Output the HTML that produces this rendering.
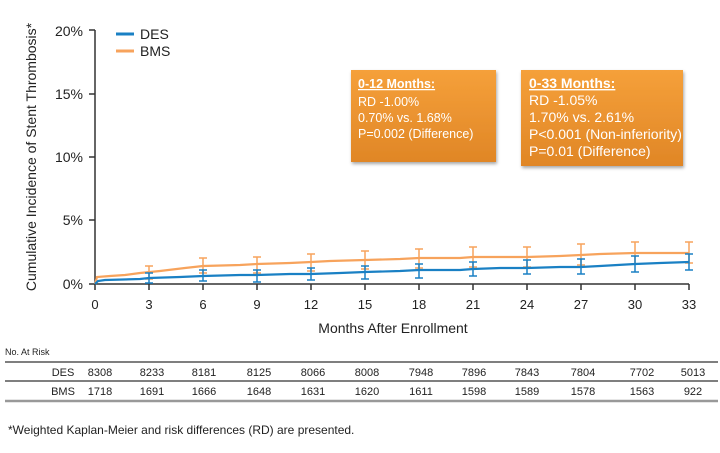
<!DOCTYPE html>
<html><head><meta charset="utf-8"><style>
body{margin:0;background:#fff;width:720px;height:448px;overflow:hidden;font-family:"Liberation Sans",Arial,sans-serif}
svg text{font-family:"Liberation Sans",Arial,sans-serif}
</style></head><body>
<svg width="720" height="448" viewBox="0 0 720 448" xmlns="http://www.w3.org/2000/svg">
<defs>
<linearGradient id="og" x1="0" y1="0" x2="0" y2="1"><stop offset="0" stop-color="#f5a03a"/><stop offset="1" stop-color="#e08626"/></linearGradient>
<filter id="sh" x="-10%" y="-10%" width="130%" height="130%"><feDropShadow dx="1" dy="2" stdDeviation="1.5" flood-color="#000" flood-opacity="0.35"/></filter>
</defs>
<g stroke="#333" stroke-width="1.5" fill="none">
<line x1="95" y1="30" x2="95" y2="284"/>
<line x1="95" y1="284" x2="689" y2="284"/>
<line x1="89" y1="30" x2="95" y2="30"/>
<line x1="89" y1="94" x2="95" y2="94"/>
<line x1="89" y1="157" x2="95" y2="157"/>
<line x1="89" y1="220" x2="95" y2="220"/>
<line x1="89" y1="284" x2="95" y2="284"/>
<line x1="95" y1="284" x2="95" y2="290"/><line x1="149" y1="284" x2="149" y2="290"/><line x1="203" y1="284" x2="203" y2="290"/><line x1="257" y1="284" x2="257" y2="290"/><line x1="311" y1="284" x2="311" y2="290"/><line x1="365" y1="284" x2="365" y2="290"/><line x1="419" y1="284" x2="419" y2="290"/><line x1="473" y1="284" x2="473" y2="290"/><line x1="527" y1="284" x2="527" y2="290"/><line x1="581" y1="284" x2="581" y2="290"/><line x1="635" y1="284" x2="635" y2="290"/><line x1="689" y1="284" x2="689" y2="290"/>
</g>
<g font-size="14" fill="#222" text-anchor="end">
<text x="83" y="36">20%</text><text x="83" y="99">15%</text><text x="83" y="162">10%</text><text x="83" y="225">5%</text><text x="83" y="289">0%</text>
</g>
<g font-size="13" fill="#222" text-anchor="middle">
<text x="95" y="309">0</text><text x="149" y="309">3</text><text x="203" y="309">6</text><text x="257" y="309">9</text><text x="311" y="309">12</text><text x="365" y="309">15</text><text x="419" y="309">18</text><text x="473" y="309">21</text><text x="527" y="309">24</text><text x="581" y="309">27</text><text x="635" y="309">30</text><text x="689" y="309">33</text>
</g>
<text x="393" y="333" font-size="14" fill="#222" text-anchor="middle">Months After Enrollment</text>
<text transform="translate(36,157) rotate(-90)" font-size="14" fill="#222" text-anchor="middle">Cumulative Incidence of Stent Thrombosis*</text>
<polyline fill="none" stroke="#f7a35c" stroke-width="2.2" points="95,284 97,277 110,276 125,275 140,273 160,271 185,268 203,266 240,265 257,264 290,263 311,262 330,261 365,260 400,259 419,258 460,258 473,257 527,257 560,256 581,255 600,254 635,253 689,253"/>
<g stroke="#f7a35c" stroke-width="1.5">
<line x1="149" y1="266" x2="149" y2="279"/><line x1="145" y1="266" x2="153" y2="266"/><line x1="145" y1="279" x2="153" y2="279"/>
<line x1="203" y1="258" x2="203" y2="273"/><line x1="199" y1="258" x2="207" y2="258"/><line x1="199" y1="273" x2="207" y2="273"/>
<line x1="257" y1="257" x2="257" y2="273"/><line x1="253" y1="257" x2="261" y2="257"/><line x1="253" y1="273" x2="261" y2="273"/>
<line x1="311" y1="254" x2="311" y2="271"/><line x1="307" y1="254" x2="315" y2="254"/><line x1="307" y1="271" x2="315" y2="271"/>
<line x1="365" y1="251" x2="365" y2="269"/><line x1="361" y1="251" x2="369" y2="251"/><line x1="361" y1="269" x2="369" y2="269"/>
<line x1="419" y1="249" x2="419" y2="268"/><line x1="415" y1="249" x2="423" y2="249"/><line x1="415" y1="268" x2="423" y2="268"/>
<line x1="473" y1="247" x2="473" y2="267"/><line x1="469" y1="247" x2="477" y2="247"/><line x1="469" y1="267" x2="477" y2="267"/>
<line x1="527" y1="247" x2="527" y2="267"/><line x1="523" y1="247" x2="531" y2="247"/><line x1="523" y1="267" x2="531" y2="267"/>
<line x1="581" y1="244" x2="581" y2="265"/><line x1="577" y1="244" x2="585" y2="244"/><line x1="577" y1="265" x2="585" y2="265"/>
<line x1="635" y1="242" x2="635" y2="264"/><line x1="631" y1="242" x2="639" y2="242"/><line x1="631" y1="264" x2="639" y2="264"/>
<line x1="689" y1="242" x2="689" y2="263"/><line x1="685" y1="242" x2="693" y2="242"/><line x1="685" y1="263" x2="693" y2="263"/>
</g>
<polyline fill="none" stroke="#1a80c4" stroke-width="2.2" points="95,284 98,281 105,280 140,279 149,278 180,277 203,276 240,275 257,275 290,274 311,274 340,273 365,272 400,271 419,270 460,270 473,269 500,268 527,268 560,267 581,267 600,266 635,264 660,263 689,262"/>
<g stroke="#1a80c4" stroke-width="1.5">
<line x1="149" y1="273" x2="149" y2="283"/><line x1="145" y1="273" x2="153" y2="273"/><line x1="145" y1="283" x2="153" y2="283"/>
<line x1="203" y1="270" x2="203" y2="281"/><line x1="199" y1="270" x2="207" y2="270"/><line x1="199" y1="281" x2="207" y2="281"/>
<line x1="257" y1="270" x2="257" y2="282"/><line x1="253" y1="270" x2="261" y2="270"/><line x1="253" y1="282" x2="261" y2="282"/>
<line x1="311" y1="268" x2="311" y2="280"/><line x1="307" y1="268" x2="315" y2="268"/><line x1="307" y1="280" x2="315" y2="280"/>
<line x1="365" y1="266" x2="365" y2="279"/><line x1="361" y1="266" x2="369" y2="266"/><line x1="361" y1="279" x2="369" y2="279"/>
<line x1="419" y1="264" x2="419" y2="278"/><line x1="415" y1="264" x2="423" y2="264"/><line x1="415" y1="278" x2="423" y2="278"/>
<line x1="473" y1="262" x2="473" y2="276"/><line x1="469" y1="262" x2="477" y2="262"/><line x1="469" y1="276" x2="477" y2="276"/>
<line x1="527" y1="260" x2="527" y2="274"/><line x1="523" y1="260" x2="531" y2="260"/><line x1="523" y1="274" x2="531" y2="274"/>
<line x1="581" y1="259" x2="581" y2="274"/><line x1="577" y1="259" x2="585" y2="259"/><line x1="577" y1="274" x2="585" y2="274"/>
<line x1="635" y1="256" x2="635" y2="272"/><line x1="631" y1="256" x2="639" y2="256"/><line x1="631" y1="272" x2="639" y2="272"/>
<line x1="689" y1="254" x2="689" y2="270"/><line x1="685" y1="254" x2="693" y2="254"/><line x1="685" y1="270" x2="693" y2="270"/>
</g>
<line x1="116" y1="34" x2="134" y2="34" stroke="#1a80c4" stroke-width="3"/>
<text x="140" y="39" font-size="14" fill="#222">DES</text>
<line x1="116" y1="51" x2="134" y2="51" stroke="#f7a35c" stroke-width="3"/>
<text x="140" y="56" font-size="14" fill="#222">BMS</text>
<rect x="351" y="70" width="145" height="92" fill="url(#og)" filter="url(#sh)"/>
<g font-size="12.5" fill="#fff">
<text x="358" y="88" font-weight="bold" text-decoration="underline">0-12 Months:</text>
<text x="358" y="106">RD -1.00%</text>
<text x="358" y="122">0.70% vs. 1.68%</text>
<text x="358" y="138">P=0.002 (Difference)</text>
</g>
<rect x="521" y="70" width="162" height="96" fill="url(#og)" filter="url(#sh)"/>
<g font-size="14" fill="#fff">
<text x="529" y="88" font-weight="bold" text-decoration="underline">0-33 Months:</text>
<text x="529" y="105">RD -1.05%</text>
<text x="529" y="122">1.70% vs. 2.61%</text>
<text x="529" y="139">P&lt;0.001 (Non-inferiority)</text>
<text x="529" y="156">P=0.01 (Difference)</text>
</g>
<text x="5" y="355" font-size="9" fill="#222">No. At Risk</text>
<line x1="5" y1="362" x2="718" y2="362" stroke="#333" stroke-width="1.2"/>
<line x1="5" y1="381" x2="718" y2="381" stroke="#333" stroke-width="1.2"/>
<line x1="5" y1="401" x2="718" y2="401" stroke="#999" stroke-width="2.5"/>
<g font-size="11" fill="#222" text-anchor="middle">
<text x="63" y="376">DES</text><text x="100" y="376">8308</text><text x="152" y="376">8233</text><text x="204" y="376">8181</text><text x="259" y="376">8125</text><text x="313" y="376">8066</text><text x="367" y="376">8008</text><text x="421" y="376">7948</text><text x="474" y="376">7896</text><text x="527" y="376">7843</text><text x="583" y="376">7804</text><text x="642" y="376">7702</text><text x="693" y="376">5013</text>
<text x="63" y="395">BMS</text><text x="100" y="395">1718</text><text x="152" y="395">1691</text><text x="204" y="395">1666</text><text x="259" y="395">1648</text><text x="313" y="395">1631</text><text x="367" y="395">1620</text><text x="421" y="395">1611</text><text x="474" y="395">1598</text><text x="527" y="395">1589</text><text x="583" y="395">1578</text><text x="642" y="395">1563</text><text x="693" y="395">922</text>
</g>
<text x="8" y="434" font-size="12" fill="#222">*Weighted Kaplan-Meier and risk differences (RD) are presented.</text>
</svg>
</body></html>
